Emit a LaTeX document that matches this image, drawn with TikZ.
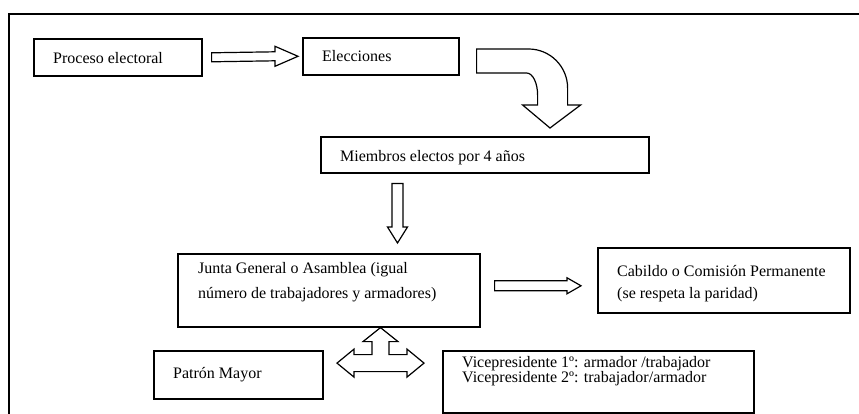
\documentclass[tikz,border=0pt]{standalone}
\usepackage{fontspec}
\setmainfont{Liberation Serif}
\usetikzlibrary{calc}
\tikzset{
  box/.style={draw, line width=1.6pt, rectangle, inner sep=0pt, anchor=north west},
  txt/.style={inner sep=0pt, anchor=base west, font=\fontsize{16pt}{16pt}\selectfont},
  blockarr/.style={draw, line width=1.2pt, fill=white, line join=miter},
  frame/.style={draw, line width=2pt}
}
\begin{document}
\begin{tikzpicture}[x=1pt,y=-1pt]
\useasboundingbox (0,0) rectangle (859,414);
\clip (0,0) rectangle (859,414);
\fill[white] (0,0) rectangle (859,414);
\draw[frame] (9,430) -- (9,14) -- (870,14);

% boxes
\node[box, minimum width=168pt, minimum height=37pt] (proc) at (33,38) {};
\node[box, minimum width=156pt, minimum height=37pt] (elec) at (302,37) {};
\node[box, minimum width=328pt, minimum height=36pt] (miem) at (320,136) {};
\node[box, minimum width=302pt, minimum height=73pt] (junta) at (177,253) {};
\node[box, minimum width=252pt, minimum height=65pt] (cab) at (597,247) {};
\node[box, minimum width=169pt, minimum height=48pt] (patron) at (153,350) {};
\node[box, minimum width=311pt, minimum height=62pt] (vice) at (442,350) {};

% texts
\node[txt] (procT) at (53,64) {Proceso electoral};
\node[txt] (elecT) at (322,62) {Elecciones};
\node[txt] (miemT) at (340,162) {Miembros electos por 4 años};
\node[txt] (juntaT1) at (198,273) {Junta General o Asamblea (igual};
\node[txt] (juntaT2) at (198,298) {número de trabajadores y armadores)};
\node[txt] (cabT1) at (617,276) {Cabildo o Comisión Permanente};
\node[txt] (cabT2) at (617,298) {(se respeta la paridad)};
\node[txt] (patronT) at (173,378) {Patrón Mayor};
\node[txt] (viceT1) at (462,367) {Vicepresidente 1º: armador /trabajador};
\node[txt] (viceT2) at (462,382.5) {Vicepresidente 2º: trabajador/armador};

% arrow Proceso -> Elecciones
\coordinate (a1s) at ($(proc.east)+(9,0)$);
\coordinate (a1e) at ($(elec.west)+(-4,0)$);
\draw[blockarr] (a1s) ++(0,-4.5) -- ($(a1e)+(-23,-4.5)$) -- ($(a1e)+(-23,-10)$) -- (a1e)
  -- ($(a1e)+(-23,10)$) -- ($(a1e)+(-23,4.5)$) -- ($(a1s)+(0,4.5)$) -- cycle;

% curved arrow Elecciones -> Miembros
\coordinate (c0) at ($(elec.north east)+(17,12)$);
\draw[blockarr] (c0) -- ++(52,0) .. controls ++(21.5,0) and ($(c0)+(91,17.5)$) .. ($(c0)+(91,39)$)
  -- ($(c0)+(91,56)$) -- ($(c0)+(104,56)$) -- ($(miem.north west)+(230,-8)$)
  -- ($(c0)+(46,56)$) -- ($(c0)+(61,56)$) -- ($(c0)+(61,46)$)
  .. controls ($(c0)+(61,33.9)$) and ($(c0)+(56.1,24)$) .. ($(c0)+(50,24)$)
  -- ($(c0)+(0,24)$) -- cycle;

% down arrow Miembros -> Junta
\coordinate (d0) at ($(miem.south west)+(77.5,10)$);
\coordinate (d1) at ($(d0 |- junta.north)+(0,-10)$);
\draw[blockarr] ($(d0)+(-5.5,0)$) -- ($(d1)+(-5.5,-16)$) -- ($(d1)+(-10,-16)$) -- (d1)
  -- ($(d1)+(10,-16)$) -- ($(d1)+(5.5,-16)$) -- ($(d0)+(5.5,0)$) -- cycle;

% arrow Junta -> Cabildo
\coordinate (b1s) at ($(junta.east)+(14,-4.5)$);
\coordinate (b1e) at ($(cab.west)+(-16,5.5)$);
\draw[blockarr] ($(b1s)+(0,-5)$) -- ($(b1e)+(-14,-5)$) -- ($(b1e)+(-14,-8)$) -- (b1e)
  -- ($(b1e)+(-14,8)$) -- ($(b1e)+(-14,5)$) -- ($(b1s)+(0,5)$) -- cycle;

% three-way arrow Junta / Patron / Vice
\coordinate (t) at ($(junta.south west)+(203.5,0)$);
\draw[blockarr] (t) -- ++(17.5,14) -- ++(-9,0) -- ++(0,13) -- ++(18,0) -- ++(0,-5.5)
  -- ++(17,14) -- ++(-17,14) -- ++(0,-5.5) -- ++(-53,0) -- ++(0,5.5) -- ++(-17,-14)
  -- ++(17,-14) -- ++(0,5.5) -- ++(18,0) -- ++(0,-13) -- ++(-9,0) -- cycle;
\end{tikzpicture}
\end{document}
